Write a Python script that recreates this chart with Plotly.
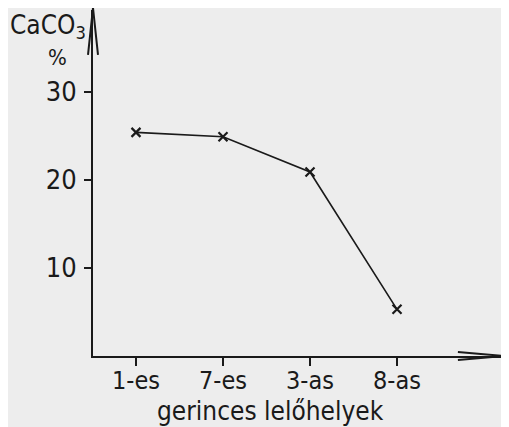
import plotly.graph_objects as go

sites = ["1-es", "7-es", "3-as", "8-as"]
caco3 = [25.4, 24.9, 20.9, 5.3]
y_ticks = [10, 20, 30]

FONT = "DejaVu Sans Condensed, DejaVu Sans, sans-serif"
INK = "#1a1a1a"
x_idx = list(range(len(sites)))

fig = go.Figure()
fig.add_trace(go.Scatter(
    x=x_idx, y=caco3, mode="lines+markers",
    line=dict(color=INK, width=1.6),
    marker=dict(symbol="x-thin", size=9, line=dict(color=INK, width=2.2)),
    showlegend=False,
))

fig.update_layout(
    width=501, height=419,
    margin=dict(l=85, r=6, t=2, b=71),
    paper_bgcolor="#ededed", plot_bgcolor="#ededed",
    font=dict(family=FONT, size=26, color=INK),
    xaxis=dict(
        range=[-0.494, 4.218], tickvals=x_idx, ticktext=sites,
        showgrid=False, zeroline=False, showline=True, linecolor=INK, linewidth=2,
        ticks="outside", ticklen=8, tickwidth=1.5, tickcolor=INK,
        tickfont=dict(family=FONT, size=25), ticklabelstandoff=-7,
        automargin=False,
    ),
    yaxis=dict(
        range=[0, 39.3], tickvals=y_ticks,
        showgrid=False, zeroline=False, showline=True, linecolor=INK, linewidth=2,
        ticks="outside", ticklen=7, tickwidth=1.5, tickcolor=INK,
        tickfont=dict(family=FONT, size=27), ticklabelstandoff=2,
        automargin=False,
    ),
)

# axis arrowheads (open, drawn as decorations in paper space)
fig.add_shape(type="path", xref="paper", yref="paper",
              path="M -0.0122,0.87 L 0,1.006 L 0.0122,0.87",
              line=dict(color=INK, width=2))
fig.add_shape(type="path", xref="paper", yref="paper",
              path="M 0.89,0.0116 L 1.0,0 L 0.89,-0.0116",
              line=dict(color=INK, width=2))

# x-axis title
fig.add_annotation(xref="paper", yref="paper", x=0.432, y=-0.159,
                   xanchor="center", yanchor="middle", showarrow=False,
                   text="gerinces lelőhelyek", font=dict(family=FONT, size=26, color=INK))

# y-axis unit label
fig.add_annotation(xref="paper", yref="paper", x=-0.0122, y=0.951, xanchor="right", yanchor="middle",
                   showarrow=False, text="CaCO<sub>3</sub>",
                   font=dict(family=FONT, size=26, color=INK))
fig.add_annotation(xref="paper", yref="paper", x=-0.0878, y=0.864, xanchor="center", yanchor="middle",
                   showarrow=False, text="%",
                   font=dict(family=FONT, size=22, color=INK))

fig.write_html("out.html")
